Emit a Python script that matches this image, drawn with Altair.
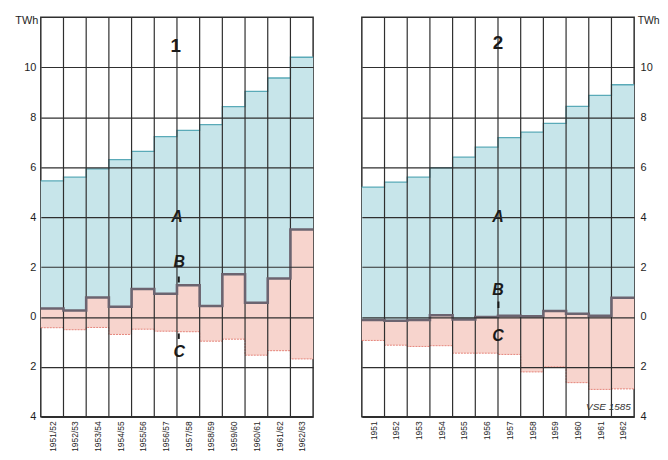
import altair as alt
import pandas as pd

# ---- data (TWh) ----
labels1 = ["1951/52", "1952/53", "1953/54", "1954/55", "1955/56", "1956/57",
           "1957/58", "1958/59", "1959/60", "1960/61", "1961/62", "1962/63"]
total1 = [5.45, 5.6, 5.93, 6.3, 6.63, 7.22, 7.47, 7.7, 8.42, 9.03, 9.57, 10.4]
b1 = [0.34, 0.26, 0.78, 0.41, 1.12, 0.93, 1.27, 0.44, 1.71, 0.57, 1.54, 3.5]
c1 = [-0.43, -0.51, -0.42, -0.7, -0.49, -0.57, -0.59, -0.97, -0.89, -1.53, -1.35, -1.68]

labels2 = ["1951", "1952", "1953", "1954", "1955", "1956",
           "1957", "1958", "1959", "1960", "1961", "1962"]
total2 = [5.2, 5.4, 5.6, 5.97, 6.4, 6.8, 7.18, 7.4, 7.75, 8.43, 8.87, 9.3]
b2 = [-0.12, -0.15, -0.12, 0.07, -0.1, 0.0, 0.05, 0.03, 0.24, 0.13, 0.05, 0.77]
c2 = [-0.94, -1.13, -1.18, -1.15, -1.45, -1.45, -1.5, -2.2, -2.0, -2.63, -2.9, -2.88]

ytick_values = [-4, -2, 0, 2, 4, 6, 8, 10]

# annotations: (text, x position in columns, y value)
notes1 = [("A", 6.0, 4.0), ("B", 6.1, 2.2), ("C", 6.1, -1.4)]
notes2 = [("A", 6.0, 4.0), ("B", 6.0, 1.08), ("C", 6.0, -0.75)]
# short leader strokes: (x position, y from, y to)
leaders1 = [(6.08, 1.62, 1.38), (6.08, -0.66, -0.88)]
leaders2 = [(6.02, 0.62, 0.36)]
number1 = ("1", 5.95, 10.85)
number2 = ("2", 6.0, 10.95)
credit2 = ("VSE 1585", 11.85, -3.6)

FONT = "Liberation Sans"
GRID = "#2f2f2f"
BLUE = "#c7e5ea"
BLUE_EDGE = "#5aaab8"
RED = "#f7d4cd"
RED_EDGE = "#e5847a"
B_LINE = "#6c6470"

W, H = 274, 402


def panel(labels, total, b, c, notes, leaders, number, orient, credit=None):
    n = len(labels)
    df = pd.DataFrame({"i": list(range(n)), "i2": [k + 1 for k in range(n)],
                       "total": total, "b": b, "c": c})
    steps = pd.DataFrame({"i": list(range(n + 1)),
                          "total": total + [total[-1]],
                          "b": b + [b[-1]],
                          "c": c + [c[-1]]})
    grid = pd.DataFrame({"i": list(range(1, n))})
    arr = "[" + ",".join("'" + s + "'" for s in labels) + "]"

    xs = alt.Scale(domain=[0, n], nice=False, zero=False)
    ys = alt.Scale(domain=[-4, 12], nice=False, zero=False)

    xaxis = alt.Axis(values=[k + 0.5 for k in range(n)],
                     labelExpr=arr + "[floor(datum.value)]",
                     labelAngle=270, labelAlign="right", labelBaseline="middle",
                     labelFont=FONT, labelFontSize=8.5, labelColor="#1e1e1e",
                     labelPadding=4, ticks=False, domain=False, grid=False,
                     labelFlush=False, title=None)
    if orient == "left":
        tx, talign, tsize = -3, "right", 11
        lpad = 5
    else:
        tx, talign, tsize = 3, "left", 10.5
        lpad = 6
    yaxis = alt.Axis(values=ytick_values, labelExpr="abs(datum.value)",
                     orient=orient, grid=True, gridColor=GRID, gridWidth=1.2,
                     gridOpacity=1, ticks=False, domain=False,
                     labelFont=FONT, labelFontSize=11, labelColor="#1e1e1e",
                     labelPadding=lpad, labelFlush=False, zindex=1,
                     title="TWh", titleAngle=0, titleX=tx, titleY=3,
                     titleAlign=talign, titleBaseline="middle",
                     titleFont=FONT, titleFontSize=tsize, titleFontWeight="normal",
                     titleColor="#1e1e1e")

    def X(f):
        return alt.X(f, scale=xs, axis=xaxis)

    def Y(f):
        return alt.Y(f, scale=ys, axis=yaxis)

    blue = alt.Chart(df).mark_rect(color=BLUE).encode(
        x=X("i:Q"), x2="i2:Q", y=Y("b:Q"), y2="total:Q")
    red = alt.Chart(df).mark_rect(color=RED).encode(
        x=X("i:Q"), x2="i2:Q", y=Y("c:Q"), y2="b:Q")
    top_line = alt.Chart(steps).mark_line(
        interpolate="step-after", color=BLUE_EDGE, strokeWidth=1.3).encode(
        x=X("i:Q"), y=Y("total:Q"))
    c_line = alt.Chart(steps).mark_line(
        interpolate="step-after", color=RED_EDGE, strokeWidth=1.0,
        strokeDash=[2, 1]).encode(
        x=X("i:Q"), y=Y("c:Q"))
    vgrid = alt.Chart(grid).mark_rule(color=GRID, strokeWidth=1.2).encode(
        x=X("i:Q"))
    b_line = alt.Chart(steps).mark_line(
        interpolate="step-after", color=B_LINE, strokeWidth=2.6).encode(
        x=X("i:Q"), y=Y("b:Q"))

    ldf = pd.DataFrame({"x": [l[0] for l in leaders], "y": [l[1] for l in leaders],
                        "y2": [l[2] for l in leaders]})
    lead = alt.Chart(ldf).mark_rule(color="#1a1a1a", strokeWidth=2).encode(
        x=X("x:Q"), y=Y("y:Q"), y2="y2:Q")

    ndf = pd.DataFrame({"t": [x[0] for x in notes], "x": [x[1] for x in notes],
                        "y": [x[2] for x in notes]})
    letters = alt.Chart(ndf).mark_text(
        font=FONT, fontSize=16, fontWeight="bold", fontStyle="italic",
        color="#1a1a1a", align="center", baseline="middle").encode(
        x=X("x:Q"), y=Y("y:Q"), text="t:N")
    numdf = pd.DataFrame({"t": [number[0]], "x": [number[1]], "y": [number[2]]})
    num = alt.Chart(numdf).mark_text(
        font=FONT, fontSize=19, fontWeight="bold", color="#1a1a1a",
        align="center", baseline="middle").encode(
        x=X("x:Q"), y=Y("y:Q"), text="t:N")
    layers = [blue, red, top_line, c_line, vgrid, b_line, lead, letters, num]
    if credit is not None:
        cdf = pd.DataFrame({"t": [credit[0]], "x": [credit[1]], "y": [credit[2]]})
        layers.append(alt.Chart(cdf).mark_text(
            font=FONT, fontSize=10, fontStyle="italic", color="#333",
            align="right", baseline="middle").encode(
            x=X("x:Q"), y=Y("y:Q"), text="t:N"))
    return alt.layer(*layers).properties(width=W, height=H)


p1 = panel(labels1, total1, b1, c1, notes1, leaders1, number1, "left")
p2 = panel(labels2, total2, b2, c2, notes2, leaders2, number2, "right", credit2)

chart = alt.hconcat(p1, p2, spacing=37).properties(
    padding={"left": 6, "top": 4, "right": 0, "bottom": 0},
    background="white"
).configure_view(stroke=GRID, strokeWidth=1.5)

chart.save("out.html", embed_options={"renderer": "svg", "actions": False})
